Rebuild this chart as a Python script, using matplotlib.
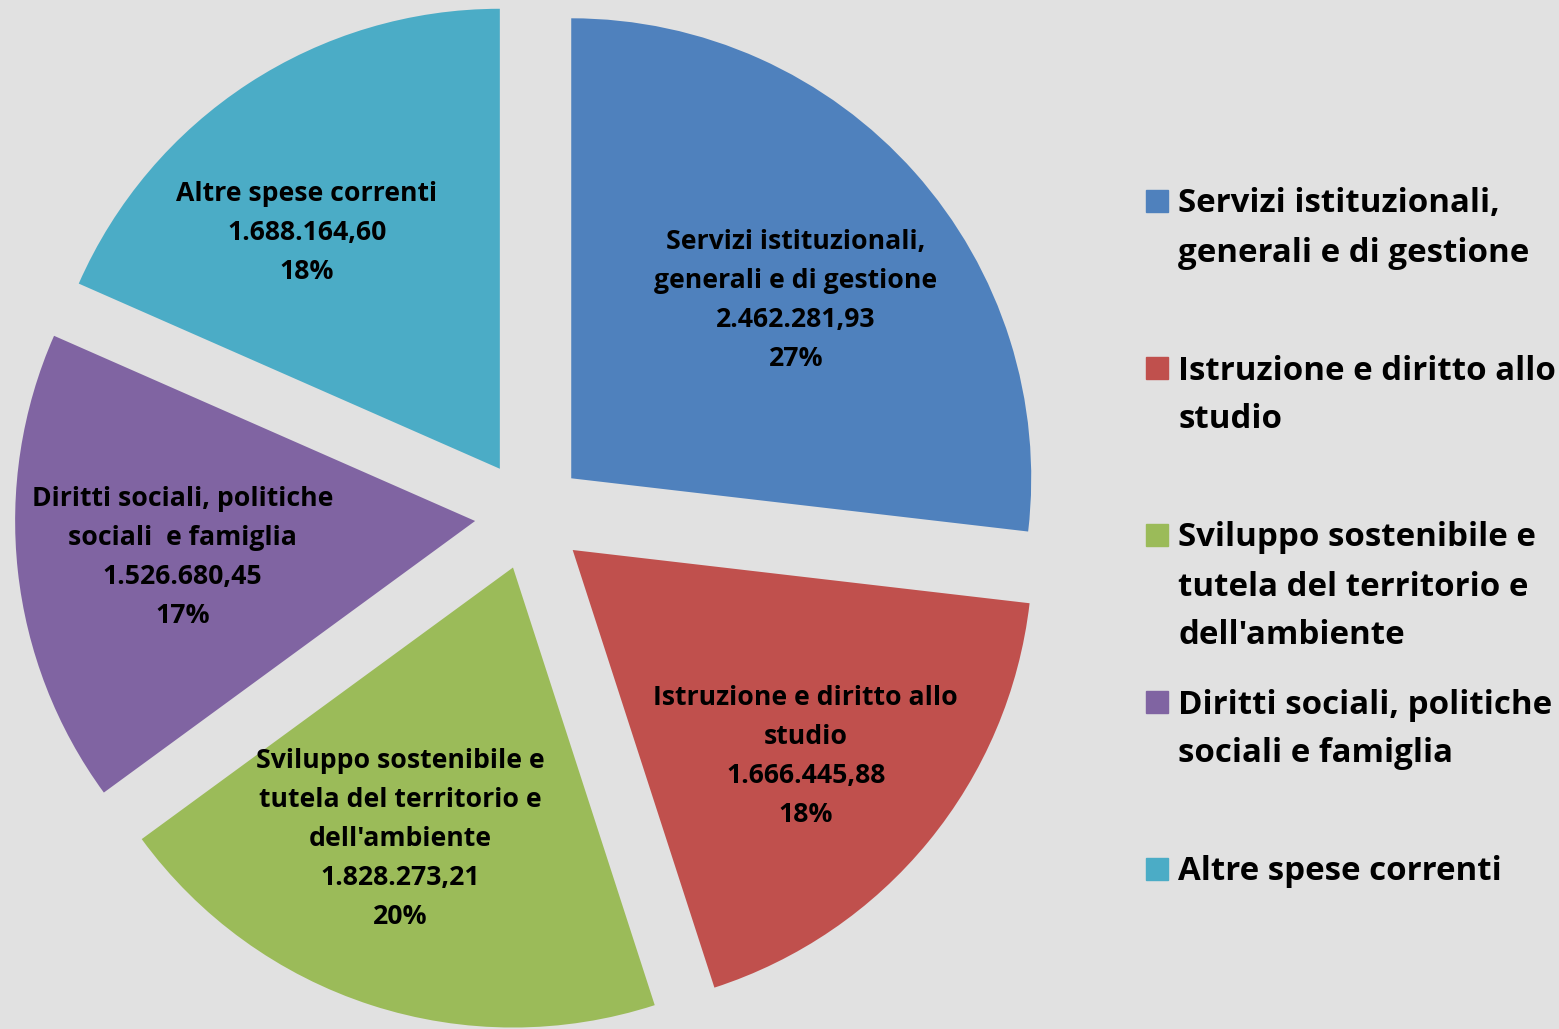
import numpy as np
import matplotlib.pyplot as plt
from matplotlib.patches import Rectangle

# Spesa corrente per missione
categories = ['Servizi istituzionali,\ngenerali e di gestione',
              'Istruzione e diritto allo\nstudio',
              'Sviluppo sostenibile e\ntutela del territorio e\ndell\'ambiente',
              'Diritti sociali, politiche\nsociali  e famiglia',
              'Altre spese correnti']
legend_labels = ['Servizi istituzionali,\ngenerali e di gestione',
                 'Istruzione e diritto allo\nstudio',
                 'Sviluppo sostenibile e\ntutela del territorio e\ndell\'ambiente',
                 'Diritti sociali, politiche\nsociali e famiglia',
                 'Altre spese correnti']
values = [2462281.93, 1666445.88, 1828273.21, 1526680.45, 1688164.60]

colors = ['#4F81BD', '#C0504D', '#9BBB59', '#8064A2', '#4BACC6']
bg = '#e1e1e1'
W, H = 1559, 1029
R = 460.0  # pie radius in pixels
label_dist = [0.63, 0.67, 0.63, 0.64, 0.67]
label_turn = [-2.5, -1.5, -5.0, 0.0, 5.6]  # degrees, nudges the label off the bisector
FONT = 'Open Sans'


def it_number(v):
    # 1,234,567.89 -> 1.234.567,89
    s = f'{v:,.2f}'
    return s.replace(',', '#').replace('.', ',').replace('#', '.')


fig = plt.figure(figsize=(W / 100, H / 100), dpi=100)
fig.patch.set_facecolor(bg)
ax = fig.add_axes([0, 0, 1, 1])
ax.set_facecolor(bg)

wedges, _ = ax.pie(values, colors=colors, startangle=90, counterclock=False,
                   explode=[0.12] * len(values), radius=1,
                   wedgeprops=dict(linewidth=0))

total = sum(values)
for w, cat, v, d, t in zip(wedges, categories, values, label_dist, label_turn):
    mid = np.deg2rad((w.theta1 + w.theta2) / 2 + t)
    cx, cy = w.center
    lines = cat.split('\n') + [it_number(v), f'{round(v / total * 100)}%']
    n = len(lines)
    for j, line in enumerate(lines):
        # 39 px between lines, block centred on the label point
        ax.annotate(line, (cx + d * np.cos(mid), cy + d * np.sin(mid)),
                    xytext=(0, ((n - 1) / 2 - j) * 39 - 5), textcoords='offset pixels',
                    ha='center', va='center', fontsize=19.2, fontweight='bold',
                    family=FONT, color='black')

# center of the pie at (530, 515) px
ax.set_xlim(-530 / R, (W - 530) / R)
ax.set_ylim(-(H - 515) / R, 515 / R)
ax.set_aspect('equal', adjustable='box')
ax.axis('off')

# legend, equal pitch between entries
for i, (lab, c) in enumerate(zip(legend_labels, colors)):
    y0 = 201 + i * 167
    fig.patches.append(Rectangle((1146 / W, 1 - (y0 + 11) / H), 22 / W, 22 / H,
                                 transform=fig.transFigure, color=c))
    for j, line in enumerate(lab.split('\n')):
        fig.text(1178 / W, 1 - (y0 + 3 + j * 49) / H, line, ha='left',
                 va='center', fontsize=23.8, fontweight='bold', family=FONT,
                 color='black')

fig.savefig('out.png', dpi=100, facecolor=bg)
